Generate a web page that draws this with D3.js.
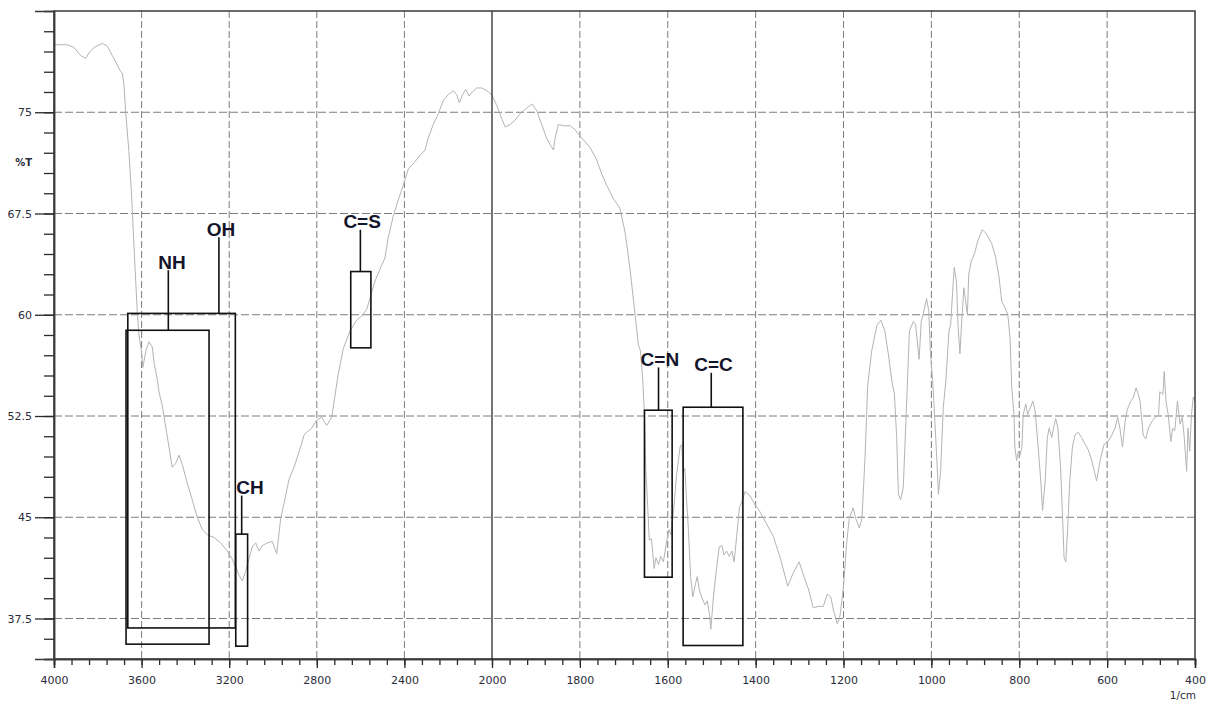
<!DOCTYPE html>
<html lang="en">
<head>
    <meta charset="UTF-8">
    <script src="https://d3js.org/d3.v7.min.js"></script>
    <title>IR spectrum</title>
    <style>
        body { margin: 0; background: #fff; }
    </style>
</head>
<body>
    <script>

        // [wavenumber (1/cm), transmittance (%T)]
        var spectrum = [
            [4000,80.0],[3939,80.0],[3909,79.8],[3878,79.2],[3855,79.0],[3840,79.4],[3817,79.8],[3779,80.1],[3757,79.9],[3734,79.2],
            [3711,78.5],[3695,78.0],[3688,77.9],[3680,76.9],[3673,75.1],[3658,72.1],[3647,69.2],[3638,66.2],[3629,63.2],[3620,60.3],
            [3612,58.5],[3601,57.3],[3594,56.1],[3581,57.3],[3566,58.0],[3551,57.6],[3543,56.4],[3528,55.2],[3521,54.3],[3506,53.3],
            [3490,51.7],[3475,50.2],[3460,48.7],[3444,49.0],[3429,49.6],[3414,48.9],[3391,47.5],[3369,46.3],[3346,45.0],[3323,44.1],
            [3300,43.7],[3269,43.5],[3239,43.1],[3209,42.5],[3186,41.9],[3170,41.3],[3155,40.7],[3140,40.3],[3125,41.0],[3110,41.9],
            [3095,42.8],[3079,43.1],[3064,42.5],[3049,42.9],[3026,43.1],[3003,43.2],[2983,42.3],[2965,44.9],[2950,46.0],[2927,47.8],
            [2904,48.7],[2874,50.2],[2858,51.1],[2846,51.3],[2823,51.6],[2800,52.2],[2778,52.4],[2755,51.8],[2732,52.4],[2717,54.0],
            [2702,55.6],[2679,57.5],[2648,58.8],[2618,59.6],[2595,59.9],[2572,60.4],[2554,61.4],[2534,62.5],[2511,63.4],[2489,64.2],
            [2474,65.7],[2451,67.3],[2428,68.5],[2405,69.6],[2382,70.8],[2359,71.2],[2329,71.8],[2306,72.2],[2291,73.1],[2268,74.1],
            [2245,74.9],[2222,75.9],[2200,76.3],[2177,76.6],[2161,76.3],[2149,75.7],[2134,76.3],[2120,76.7],[2105,76.2],[2090,76.5],
            [2070,76.8],[2047,76.8],[2024,76.6],[2001,76.3],[1989,75.5],[1980,74.7],[1970,73.9],[1959,74.1],[1948,74.4],[1936,74.9],
            [1925,75.2],[1914,75.5],[1908,75.6],[1898,75.1],[1887,74.1],[1876,73.1],[1866,72.5],[1860,72.2],[1857,73.0],[1849,74.1],
            [1838,74.0],[1822,74.0],[1811,73.7],[1796,73.1],[1777,72.4],[1762,71.5],[1750,70.4],[1739,69.6],[1724,68.6],[1709,67.9],
            [1697,66.1],[1686,63.4],[1675,60.2],[1667,57.8],[1662,57.3],[1657,55.2],[1653,52.6],[1650,48.6],[1647,46.7],[1642,43.3],
            [1637,43.4],[1631,41.2],[1627,42.0],[1621,41.5],[1616,42.1],[1610,41.7],[1602,43.3],[1597,44.1],[1593,43.7],[1587,45.4],
            [1580,48.1],[1572,50.2],[1568,50.4],[1565,48.3],[1561,48.6],[1557,46.2],[1553,44.1],[1548,40.6],[1543,39.1],[1538,39.9],
            [1533,40.6],[1528,39.6],[1523,39.1],[1515,38.5],[1510,38.8],[1505,37.8],[1502,36.7],[1496,39.1],[1490,40.9],[1483,42.8],
            [1477,42.9],[1472,42.2],[1466,42.5],[1460,42.1],[1454,42.5],[1449,41.7],[1443,43.6],[1437,45.7],[1432,46.1],[1424,46.9],
            [1413,46.6],[1401,45.9],[1390,45.4],[1375,44.5],[1360,43.6],[1344,42.0],[1327,39.9],[1314,40.9],[1301,41.7],[1290,40.6],
            [1280,39.7],[1269,38.3],[1257,38.4],[1246,38.4],[1237,39.3],[1229,39.1],[1222,38.0],[1214,37.1],[1208,37.7],[1200,39.9],
            [1193,43.0],[1187,44.9],[1178,45.7],[1172,44.9],[1164,44.2],[1158,44.9],[1151,49.4],[1145,54.7],[1136,57.3],[1124,59.2],
            [1115,59.6],[1106,58.8],[1098,57.1],[1090,55.1],[1084,54.1],[1079,50.9],[1075,46.7],[1070,46.3],[1064,47.2],[1058,52.1],
            [1050,58.8],[1041,59.5],[1036,59.3],[1032,58.0],[1028,56.7],[1023,59.5],[1019,60.0],[1011,61.2],[1006,60.3],[1002,57.1],
            [997,55.1],[992,52.1],[987,48.9],[984,46.7],[979,48.4],[973,53.1],[967,55.1],[960,58.8],[956,59.3],[952,61.5],
            [948,63.5],[943,62.5],[939,59.0],[935,57.1],[931,59.5],[926,62.0],[922,61.0],[918,60.0],[915,63.0],[909,64.0],
            [902,64.5],[894,65.5],[884,66.3],[875,66.0],[863,65.3],[854,64.3],[846,62.8],[840,61.0],[832,60.5],[826,60.0],
            [821,58.3],[817,54.6],[812,52.6],[810,50.2],[806,49.2],[802,49.9],[798,49.6],[794,50.2],[791,52.6],[785,53.4],
            [781,52.6],[775,53.1],[769,53.6],[764,52.9],[757,50.2],[751,47.7],[747,45.5],[741,47.7],[736,50.9],[732,51.6],
            [726,50.9],[722,51.6],[717,52.3],[712,51.6],[706,48.7],[701,44.7],[698,42.0],[694,41.7],[690,44.0],[685,47.7],
            [679,50.2],[673,51.1],[666,51.3],[658,50.9],[650,50.4],[643,50.0],[635,49.2],[624,47.7],[616,49.2],[607,50.4],
            [598,50.6],[589,51.1],[582,51.6],[576,52.4],[571,51.6],[565,50.2],[559,52.1],[554,53.0],[546,53.6],[540,53.9],
            [534,54.6],[529,54.1],[525,53.6],[518,51.1],[512,50.8],[506,51.6],[498,52.1],[491,52.4],[483,52.6],[480,54.3],
            [473,54.1],[470,55.8],[466,53.6],[461,52.6],[455,50.6],[451,51.6],[446,51.4],[440,53.6],[434,51.9],[429,52.4],
            [425,51.1],[419,48.4],[416,51.6],[412,49.9],[408,52.6],[404,53.9],[400,53.6]
        ];

        var xTicks = [4000, 3600, 3200, 2800, 2400, 2000, 1800, 1600, 1400, 1200, 1000, 800, 600, 400];
        var xMinor = d3.range(4000, 2000, -80).concat(d3.range(2000, 399, -40));
        var yTicks = [37.5, 45, 52.5, 60, 67.5, 75];
        var yMinor = d3.range(34.5, 81.1, 1.5);

        // band assignments: wavenumber span of box, %T span, leader position and top
        var bandNames  = ["NH", "OH", "CH", "C=S", "C=N", "C=C"];
        var bandFrom   = [3671, 3663, 3170, 2645, 1653, 1565];
        var bandTo     = [3292, 3172, 3116, 2553, 1590, 1429];
        var bandTop    = [58.85, 60.1, 43.75, 63.2, 52.93, 53.15];
        var bandBottom = [35.6, 36.8, 35.45, 57.55, 40.56, 35.5];
        var leaderWn   = [3478, 3247, 3143, 2601, 1621, 1501];
        var leaderTop  = [63.3, 65.75, 46.6, 66.3, 56.1, 55.7];
        var labelWn    = [3461, 3237, 3105, 2593, 1618, 1496];

        var width = 1211, height = 702;

        // Shimadzu style: the scale doubles below 2000 1/cm
        var x = d3.scaleLinear()
            .domain([4000, 2000, 400])
            .range([54, 492, 1195]);
        var y = d3.scaleLinear()
            .domain([34.5, 82.5])
            .range([659, 11]);

        var svg = d3.select("body").append("svg")
            .attr("width", width)
            .attr("height", height);

        // dashed grid
        svg.append("g").selectAll("line")
            .data(xTicks.filter(function(d) { return d != 4000 && d != 2000 && d != 400; }))
            .enter().append("line")
            .attr("x1", function(d) { return x(d); })
            .attr("x2", function(d) { return x(d); })
            .attr("y1", y(82.5))
            .attr("y2", y(34.5))
            .attr("stroke", "#7c7c7c")
            .attr("stroke-width", 1)
            .attr("stroke-dasharray", "7,3");

        svg.append("g").selectAll("line")
            .data(yTicks)
            .enter().append("line")
            .attr("x1", x(4000))
            .attr("x2", x(400))
            .attr("y1", function(d) { return y(d); })
            .attr("y2", function(d) { return y(d); })
            .attr("stroke", "#7c7c7c")
            .attr("stroke-width", 1)
            .attr("stroke-dasharray", "8,3");

        // spectrum
        var line = d3.line()
            .x(function(d) { return x(d[0]); })
            .y(function(d) { return y(d[1]); });

        svg.append("path")
            .datum(spectrum)
            .attr("d", line)
            .attr("fill", "none")
            .attr("stroke", "#b4b4b4")
            .attr("stroke-width", 1);

        // frame and the 2000 break line
        svg.append("rect")
            .attr("x", x(4000))
            .attr("y", y(82.5))
            .attr("width", x(400) - x(4000))
            .attr("height", y(34.5) - y(82.5))
            .attr("fill", "none")
            .attr("stroke", "#3a3a3a")
            .attr("stroke-width", 1.5);

        svg.append("line")
            .attr("x1", x(2000)).attr("x2", x(2000))
            .attr("y1", y(82.5)).attr("y2", y(34.5))
            .attr("stroke", "#2a2a2a")
            .attr("stroke-width", 1.3);

        // axes
        var tickFont = "'DejaVu Sans', Verdana, sans-serif";

        var xMinorAxis = svg.append("g")
            .attr("transform", "translate(0," + y(34.5) + ")")
            .call(d3.axisBottom(x).tickValues(xMinor).tickSize(6).tickFormat(""));
        var xAxis = svg.append("g")
            .attr("transform", "translate(0," + y(34.5) + ")")
            .call(d3.axisBottom(x).tickValues(xTicks).tickSize(9).tickPadding(8).tickFormat(d3.format("d")));

        var yMinorAxis = svg.append("g")
            .attr("transform", "translate(" + x(4000) + ",0)")
            .call(d3.axisLeft(y).tickValues(yMinor).tickSize(10).tickFormat(""));
        var yAxis = svg.append("g")
            .attr("transform", "translate(" + x(4000) + ",0)")
            .call(d3.axisLeft(y).tickValues(yTicks).tickSize(19).tickPadding(3).tickFormat(function(d) { return d; }));

        [xMinorAxis, xAxis, yMinorAxis, yAxis].forEach(function(g) {
            g.select(".domain").attr("stroke", "#3a3a3a").attr("stroke-width", 1.5);
            g.selectAll(".tick line").attr("stroke", "#2a2a2a").attr("stroke-width", 1.3);
            g.selectAll(".tick text")
                .attr("font-family", tickFont)
                .attr("font-size", 11)
                .attr("fill", "#2b2b3a");
        });

        svg.append("text")
            .attr("x", 32)
            .attr("y", y(71.25))
            .attr("dy", "0.35em")
            .attr("text-anchor", "end")
            .attr("font-family", tickFont)
            .attr("font-size", 10)
            .attr("font-weight", "bold")
            .attr("fill", "#2b2b3a")
            .text("%T");

        svg.append("text")
            .attr("x", x(400) + 1)
            .attr("y", 699)
            .attr("text-anchor", "end")
            .attr("font-family", tickFont)
            .attr("font-size", 10.5)
            .attr("fill", "#2b2b3a")
            .text("1/cm");

        // band boxes with leaders and labels
        var bands = svg.append("g").selectAll("g")
            .data(bandNames)
            .enter().append("g");

        bands.append("rect")
            .attr("x", function(d, i) { return x(bandFrom[i]); })
            .attr("y", function(d, i) { return y(bandTop[i]); })
            .attr("width", function(d, i) { return x(bandTo[i]) - x(bandFrom[i]); })
            .attr("height", function(d, i) { return y(bandBottom[i]) - y(bandTop[i]); })
            .attr("fill", "none")
            .attr("stroke", "#111")
            .attr("stroke-width", 1.6);

        bands.append("line")
            .attr("x1", function(d, i) { return x(leaderWn[i]); })
            .attr("x2", function(d, i) { return x(leaderWn[i]); })
            .attr("y1", function(d, i) { return y(leaderTop[i]); })
            .attr("y2", function(d, i) { return y(bandTop[i]); })
            .attr("stroke", "#111")
            .attr("stroke-width", 1.6);

        bands.append("text")
            .attr("x", function(d, i) { return x(labelWn[i]); })
            .attr("y", function(d, i) { return y(leaderTop[i]) - 1.5; })
            .attr("text-anchor", "middle")
            .attr("font-family", "'Liberation Sans', Arial, sans-serif")
            .attr("font-size", 19)
            .attr("font-weight", "bold")
            .attr("fill", "#14142a")
            .text(function(d) { return d; });

    </script>
</body>
</html>
